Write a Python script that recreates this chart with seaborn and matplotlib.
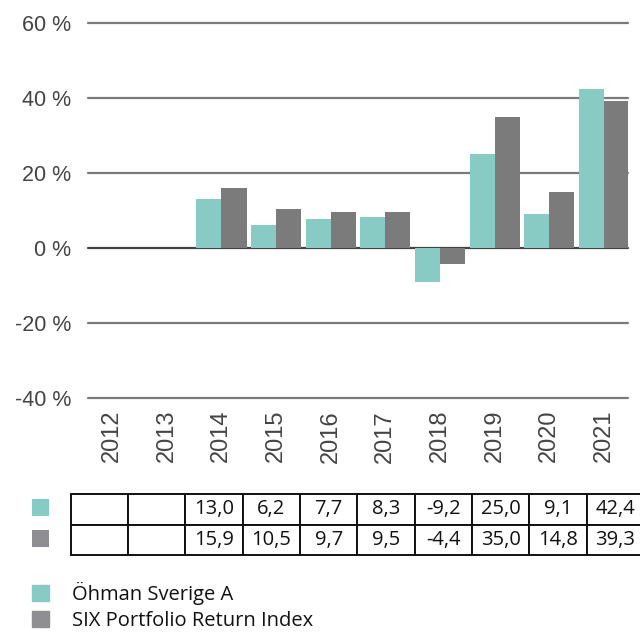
import numpy as np
import pandas as pd
import matplotlib
matplotlib.use("Agg")
import matplotlib.pyplot as plt
import seaborn as sns
from matplotlib.patches import Rectangle, Patch

# ---- data ----
years = ["2012", "2013", "2014", "2015", "2016", "2017", "2018", "2019", "2020", "2021"]
fund_name = "Öhman Sverige A"
index_name = "SIX Portfolio Return Index"
fund_values = [np.nan, np.nan, 13.0, 6.2, 7.7, 8.3, -9.2, 25.0, 9.1, 42.4]
index_values = [np.nan, np.nan, 15.9, 10.5, 9.7, 9.5, -4.4, 35.0, 14.8, 39.3]
y_ticks = [-40, -20, 0, 20, 40, 60]
y_tick_labels = ["-40 %", "-20 %", "0 %", "20 %", "40 %", "60 %"]

teal = "#88CBC5"
bar_grey = "#7B7B7B"
legend_grey = "#8E8E93"

df = pd.DataFrame({
    "year": years * 2,
    "value": fund_values + index_values,
    "series": [fund_name] * len(years) + [index_name] * len(years),
})

sns.set_theme(style="white")
plt.rcParams["font.family"] = ["Liberation Sans", "DejaVu Sans"]

fig = plt.figure(figsize=(6.4, 6.32), dpi=100)
W, H = 640, 632
ax = fig.add_axes([88 / W, 1 - 397.5 / H, (627.5 - 88) / W, (397.5 - 23.3) / H])

sns.barplot(data=df, x="year", y="value", hue="series", order=years,
            hue_order=[fund_name, index_name],
            palette=[teal, bar_grey], width=0.92, saturation=1,
            errorbar=None, legend=False, ax=ax, zorder=3,
            linewidth=0, edgecolor="none")

ax.set_ylim(-40, 60)
ax.set_xlim(-0.44, 9.43)
ax.set_yticks(y_ticks)
ax.set_yticklabels(y_tick_labels)
for y in y_ticks:
    ax.axhline(y, color="#7a7a7a" if y != 0 else "#444444", lw=1.6, zorder=1,
               clip_on=False)
for s in ax.spines.values():
    s.set_visible(False)
ax.set_xlabel("")
ax.set_ylabel("")
ax.tick_params(axis="y", length=0, pad=12, labelsize=15.5, labelcolor="#444444")
ax.tick_params(axis="x", length=0, pad=9, labelsize=17, labelcolor="#444444")
for lab in ax.get_xticklabels():
    lab.set_rotation(90)
    lab.set_va("top")
    lab.set_ha("center")

# ---- data table ----
tax = fig.add_axes([70.7 / W, 1 - 555 / H, (644 - 70.7) / W, (555 - 494) / H])
tax.axis("off")

def fmt(v):
    return "" if np.isnan(v) else f"{v:.1f}".replace(".", ",")

cell_text = [[fmt(v) for v in fund_values], [fmt(v) for v in index_values]]
tbl = tax.table(cellText=cell_text, cellLoc="center", bbox=[0, 0, 1, 1])
tbl.auto_set_font_size(False)
for (r, c), cell in tbl.get_celld().items():
    cell.set_linewidth(1.4)
    cell.set_edgecolor("#111111")
    cell.get_text().set_fontsize(14.5)
    cell.get_text().set_fontfamily(["Open Sans", "DejaVu Sans"])
    cell.get_text().set_color("#111111")

# row markers of table
fig.add_artist(Rectangle((32 / W, 1 - 516 / H), 17 / W, 17 / H,
                         transform=fig.transFigure, color=teal, lw=0))
fig.add_artist(Rectangle((32 / W, 1 - 547 / H), 17 / W, 17 / H,
                         transform=fig.transFigure, color=legend_grey, lw=0))

# ---- legend ----
handles = [Patch(color=teal, label=fund_name), Patch(color=legend_grey, label=index_name)]
fig.legend(handles=handles, loc="upper left", bbox_to_anchor=(32 / W, 1 - 582 / H),
           frameon=False, prop={"family": ["Open Sans", "DejaVu Sans"], "size": 14.5},
           handlelength=0.85, handleheight=0.85, handletextpad=1.15,
           labelspacing=0.3, borderpad=0, borderaxespad=0, labelcolor="#111111")

fig.savefig("out.png", dpi=100)
